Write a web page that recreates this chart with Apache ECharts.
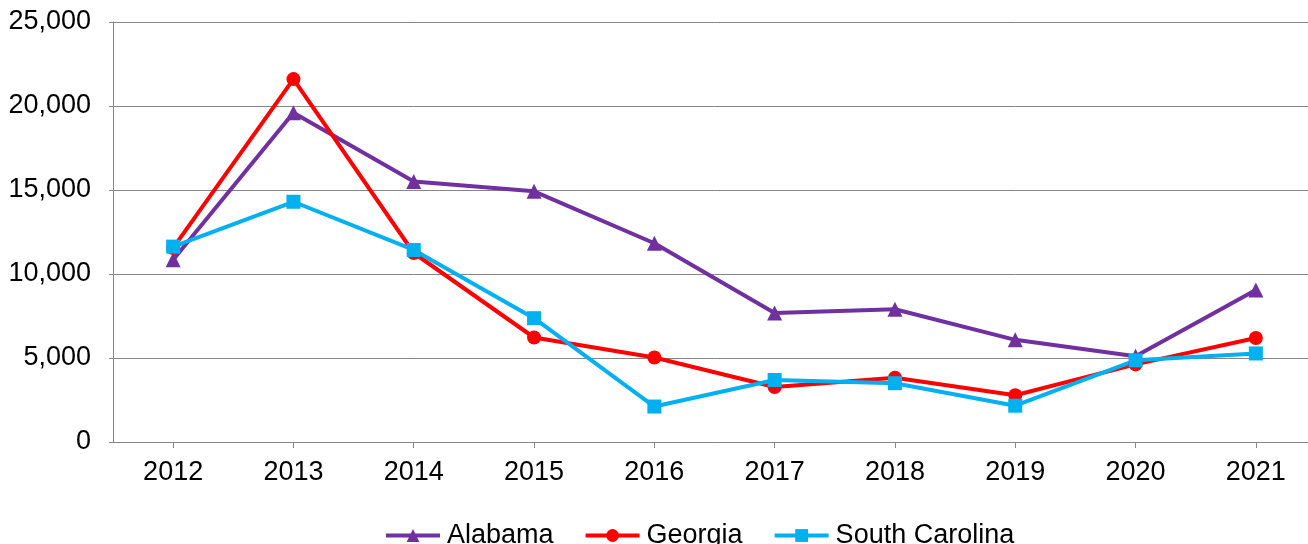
<!DOCTYPE html>
<html>
<head>
<meta charset="utf-8">
<script src="https://cdn.jsdelivr.net/npm/echarts@6/dist/echarts.min.js"></script>
<style>
html,body{margin:0;padding:0;background:#fff;overflow:hidden;}
#chart{width:1316px;height:544px;}
</style>
</head>
<body>
<div id="chart"></div>
<script>
const categories = ['2012','2013','2014','2015','2016','2017','2018','2019','2020','2021'];
const alabama = [10850, 19600, 15500, 14920, 11830, 7680, 7900, 6080, 5100, 9050];
const georgia = [11550, 21600, 11250, 6220, 5030, 3270, 3820, 2780, 4620, 6190];
const southCarolina = [11630, 14300, 11430, 7370, 2110, 3690, 3500, 2160, 4860, 5270];
const yTicks = { min: 0, max: 25000, interval: 5000 };

const font = 'Liberation Sans, Arial, sans-serif';
const chart = echarts.init(document.getElementById('chart'), null, {renderer: 'canvas'});

function mk(name, data, color, symbol, size) {
  return {
    name, type: 'line', data,
    symbol, symbolSize: size,
    lineStyle: {color, width: 4},
    itemStyle: {color},
    emphasis: {disabled: true},
    animation: false
  };
}

chart.setOption({
  animation: false,
  grid: {left: 113, top: 22, right: 0, bottom: 102, containLabel: false},
  legend: {
    top: 522, left: 384, padding: 0,
    itemWidth: 54, itemHeight: 16, itemGap: 30,
    lineStyle: {width: 4},
    textStyle: {fontFamily: font, fontSize: 27, color: '#000', padding: [0,0,0,2]},
    data: ['Alabama', 'Georgia', 'South Carolina']
  },
  xAxis: {
    type: 'category', data: categories, boundaryGap: true,
    axisLine: {show: true, lineStyle: {color: '#868686', width: 1}},
    axisTick: {show: true, alignWithLabel: true, length: 6, lineStyle: {color: '#868686'}},
    axisLabel: {fontFamily: font, fontSize: 27, color: '#000', margin: 17}
  },
  yAxis: {
    type: 'value', min: yTicks.min, max: yTicks.max, interval: yTicks.interval,
    axisLine: {show: true, lineStyle: {color: '#868686', width: 1}},
    axisTick: {show: true, length: 4, lineStyle: {color: '#868686'}},
    splitLine: {show: true, lineStyle: {color: '#868686', width: 1}},
    axisLabel: {fontFamily: font, fontSize: 27, color: '#000', margin: 22,
      formatter: v => v.toLocaleString('en-US')}
  },
  series: [
    mk('Alabama', alabama, '#7030A0', 'triangle', 15),
    mk('Georgia', georgia, '#FF0000', 'circle', 14),
    mk('South Carolina', southCarolina, '#00B0F0', 'rect', 14)
  ]
});
</script>
</body>
</html>
